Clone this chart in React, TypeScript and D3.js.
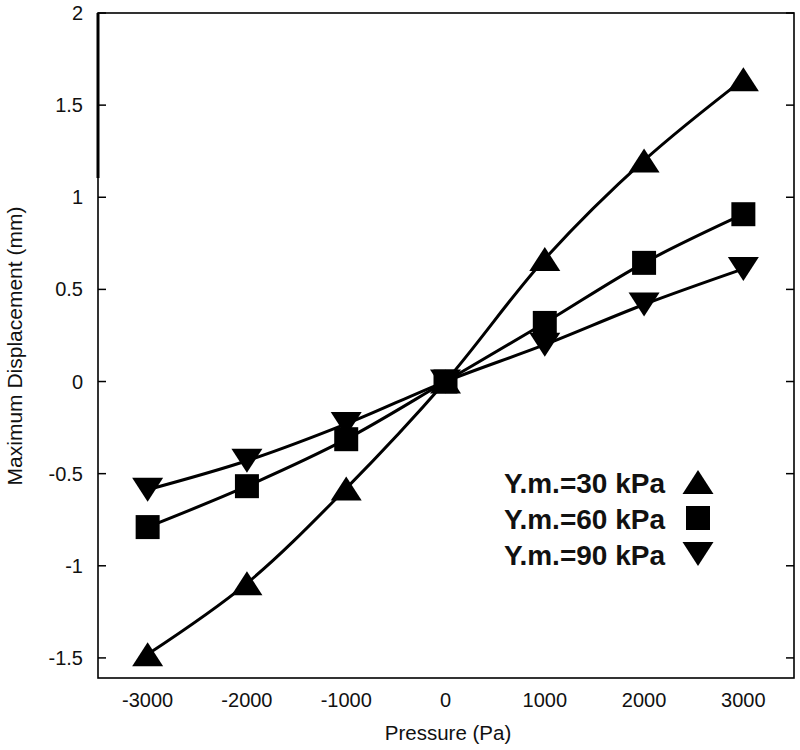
import React from "react";
import * as d3 from "d3";

const pressures = [-3000, -2000, -1000, 0, 1000, 2000, 3000];
const ym30 = [-1.48, -1.095, -0.58, 0, 0.665, 1.2, 1.64];
const ym60 = [-0.79, -0.568, -0.313, 0, 0.318, 0.644, 0.908];
const ym90 = [-0.587, -0.43, -0.23, 0, 0.2, 0.418, 0.611];
const seriesNames = ["Y.m.=30 kPa", "Y.m.=60 kPa", "Y.m.=90 kPa"];
const xTicks = [-3000, -2000, -1000, 0, 1000, 2000, 3000];
const yTicks = [-1.5, -1, -0.5, 0, 0.5, 1, 1.5, 2];

const W = 800, H = 750;
const L = 98, R = 794, T = 13, B = 678;

const triUp = "M0,-12L15.5,12L-15.5,12Z";
const triDown = "M0,12L15.5,-12L-15.5,-12Z";
const square = "M-12,-12H12V12H-12Z";
const shapes = [triUp, square, triDown];

export default function App() {
  const x = d3.scaleLinear().domain([-3500, 3510]).range([L, R]);
  const y = d3.scaleLinear().domain([-1.609, 2]).range([B, T]);
  const line = d3
    .line<[number, number]>()
    .x((d) => x(d[0]))
    .y((d) => y(d[1]))
    .curve(d3.curveCatmullRom.alpha(0.5));
  const all = [ym30, ym60, ym90];
  const font = "'Liberation Sans', Arial, sans-serif";
  return (
    <svg width={W} height={H} style={{ position: "absolute", left: 0, top: 0, background: "#fff" }} fontFamily={font}>
      <rect x={0} y={0} width={W} height={H} fill="#fff" />
      {/* frame */}
      <rect x={L} y={T} width={R - L} height={B - T} fill="none" stroke="#000" strokeWidth={1.6} />
      <line x1={L} x2={L} y1={T} y2={178} stroke="#000" strokeWidth={3} />
      {/* y ticks */}
      {yTicks.map((t) => (
        <g key={"y" + t}>
          <line x1={L} x2={L + 8} y1={y(t)} y2={y(t)} stroke="#000" strokeWidth={1.5} />
          <line x1={R} x2={R - 8} y1={y(t)} y2={y(t)} stroke="#000" strokeWidth={1.5} />
          <text x={83} y={y(t)} textAnchor="end" dominantBaseline="central" fontSize={20} fill="#111">
            {String(t)}
          </text>
        </g>
      ))}
      {/* x tick labels */}
      {xTicks.map((t) => (
        <text key={"x" + t} x={x(t)} y={707} textAnchor="middle" fontSize={20} fill="#111">
          {String(t)}
        </text>
      ))}
      <text x={448} y={740} textAnchor="middle" fontSize={20.5} fill="#111">
        Pressure (Pa)
      </text>
      <text transform={`translate(22,346) rotate(-90)`} textAnchor="middle" fontSize={21} fill="#111">
        Maximum Displacement (mm)
      </text>
      {/* lines */}
      {all.map((vals, i) => (
        <path
          key={"l" + i}
          d={line(pressures.map((p, j) => [p, vals[j]] as [number, number])) || ""}
          fill="none"
          stroke="#000"
          strokeWidth={3}
        />
      ))}
      {/* markers */}
      {all.map((vals, i) =>
        pressures.map((p, j) => (
          <path key={`m${i}-${j}`} d={shapes[i]} transform={`translate(${x(p)},${y(vals[j])})`} fill="#000" />
        ))
      )}
      {/* legend */}
      {seriesNames.map((name, i) => (
        <g key={"lg" + i}>
          <text x={665} y={493 + i * 36} textAnchor="end" fontSize={28} fontWeight="bold" fill="#111">
            {name}
          </text>
          <path d={shapes[i]} transform={`translate(698,${482 + i * 36})`} fill="#000" />
        </g>
      ))}
    </svg>
  );
}
